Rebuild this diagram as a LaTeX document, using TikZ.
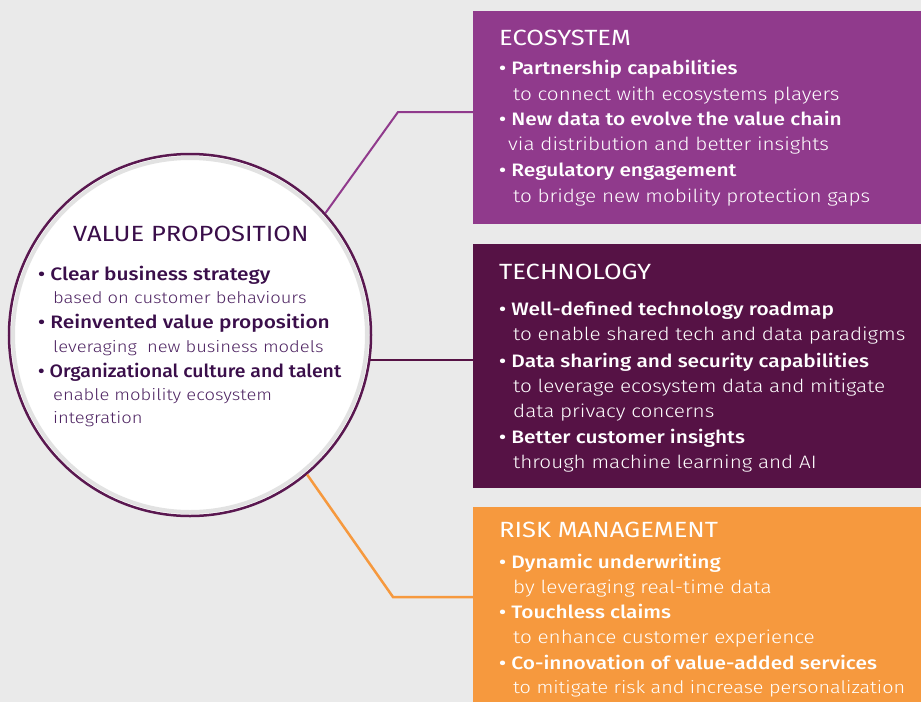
\documentclass[tikz,border=0pt]{standalone}
\usepackage{fontspec}
\setmainfont{Fira Sans}[FakeStretch=1.16]
\newfontfamily\lightfont{Fira Sans Light}[FakeStretch=1.15]
\newfontfamily\medfont{Fira Sans Medium}[FakeStretch=1.16]
\newfontfamily\medfontc{Fira Sans Medium}[FakeStretch=1.08]
\definecolor{bg}{HTML}{EAEAEA}
\definecolor{ecoc}{HTML}{903A8C}
\definecolor{techc}{HTML}{561245}
\definecolor{riskc}{HTML}{F6993E}
\definecolor{vpborder}{HTML}{5A1850}
\definecolor{vptext}{HTML}{3A0E4A}
\definecolor{vplight}{HTML}{4E2462}
\definecolor{ring}{HTML}{E2E2E2}
\tikzset{
  panel/.style={rectangle, draw=none, inner sep=0pt},
  ttl/.style={anchor=base west, inner sep=0pt, font=\fontsize{22}{26}\selectfont},
  bld/.style={anchor=base west, inner sep=0pt, font=\medfont\fontsize{18}{22}\selectfont},
  sub/.style={anchor=base west, inner sep=0pt, font=\lightfont\fontsize{18}{22}\selectfont},
  vpsub/.style={sub, text=vplight, font=\lightfont\fontsize{16}{20}\selectfont},
  link/.style={line width=2pt},
}
\begin{document}
\begin{tikzpicture}[x=1pt,y=-1pt]
\useasboundingbox (0,0) rectangle (921,702);
\fill[bg] (0,0) rectangle (921,702);
% panels
\node[panel, fill=ecoc, minimum width=448pt, minimum height=213pt, anchor=north west] (eco) at (473,11) {};
\node[panel, fill=techc, minimum width=448pt, minimum height=244pt, anchor=north west] (tech) at (473,244) {};
\node[panel, fill=riskc, minimum width=448pt, minimum height=195pt, anchor=north west] (risk) at (473,507) {};
% circle
\node[circle, fill=white, draw=vpborder, line width=2.5pt, minimum size=362pt, inner sep=0pt] (vp) at (190,335) {};
\draw[ring, line width=4pt] (vp.center) circle[radius=177pt];
% connectors
\coordinate (c1) at (398,112);
\coordinate (c3) at (393,597);
\draw[link, ecoc] (vp.42) -- (c1) -- (c1 -| eco.west);
\draw[link, techc] (vp.-8.5) -- (vp.-8.5 -| tech.west);
\draw[link, riskc, line width=2.5pt] (vp.-50) -- (c3) -- (c3 -| risk.west);
% circle text
\begin{scope}[every node/.append style={text=vptext}]
\node[ttl, font=\fontsize{22}{26}\selectfont] (vpt) at (73,241) {VALUE PROPOSITION};
\node[bld] (vp1) at (38,280) {• Clear business strategy};
\node[vpsub] (vp1s) at (53,303) {based on customer behaviours};
\node[bld] (vp2) at (38,328) {• Reinvented value proposition};
\node[vpsub] (vp2s) at (53,352) {leveraging\ \ new business models};
\node[bld, font=\medfontc\fontsize{18}{22}\selectfont] (vp3) at (38,377) {• Organizational culture and talent};
\node[vpsub] (vp3s) at (53,400) {enable mobility ecosystem};
\node[vpsub] (vp3t) at (53,423) {integration};
\end{scope}
% ecosystem text
\begin{scope}[every node/.append style={text=white}]
\node[ttl] (et) at (499,45) {ECOSYSTEM};
\node[bld] (e1) at (499,74) {• Partnership capabilities};
\node[sub] (e1s) at (513,100) {to connect with ecosystems players};
\node[bld] (e2) at (499,125) {• New data to evolve the value chain};
\node[sub] (e2s) at (508,150) {via distribution and better insights};
\node[bld] (e3) at (499,176) {• Regulatory engagement};
\node[sub] (e3s) at (513,202) {to bridge new mobility protection gaps};
% technology text
\node[ttl] (tt) at (499,279) {TECHNOLOGY};
\node[bld] (t1) at (499,315) {• Well-defined technology roadmap};
\node[sub] (t1s) at (513,340) {to enable shared tech and data paradigms};
\node[bld] (t2) at (499,367) {• Data sharing and security capabilities};
\node[sub] (t2s) at (513,392) {to leverage ecosystem data and mitigate};
\node[sub] (t2t) at (513,417) {data privacy concerns};
\node[bld] (t3) at (499,443) {• Better customer insights};
\node[sub] (t3s) at (513,468) {through machine learning and AI};
% risk text
\node[ttl] (rt) at (499,537) {RISK MANAGEMENT};
\node[bld] (r1) at (499,568) {• Dynamic underwriting};
\node[sub] (r1s) at (513,593) {by leveraging real-time data};
\node[bld] (r2) at (499,618) {• Touchless claims};
\node[sub] (r2s) at (513,643) {to enhance customer experience};
\node[bld] (r3) at (499,669) {• Co-innovation of value-added services};
\node[sub, font=\lightfont\fontsize{17.2}{22}\selectfont] (r3s) at (513,693) {to mitigate risk and increase personalization};
\end{scope}
\end{tikzpicture}
\end{document}
